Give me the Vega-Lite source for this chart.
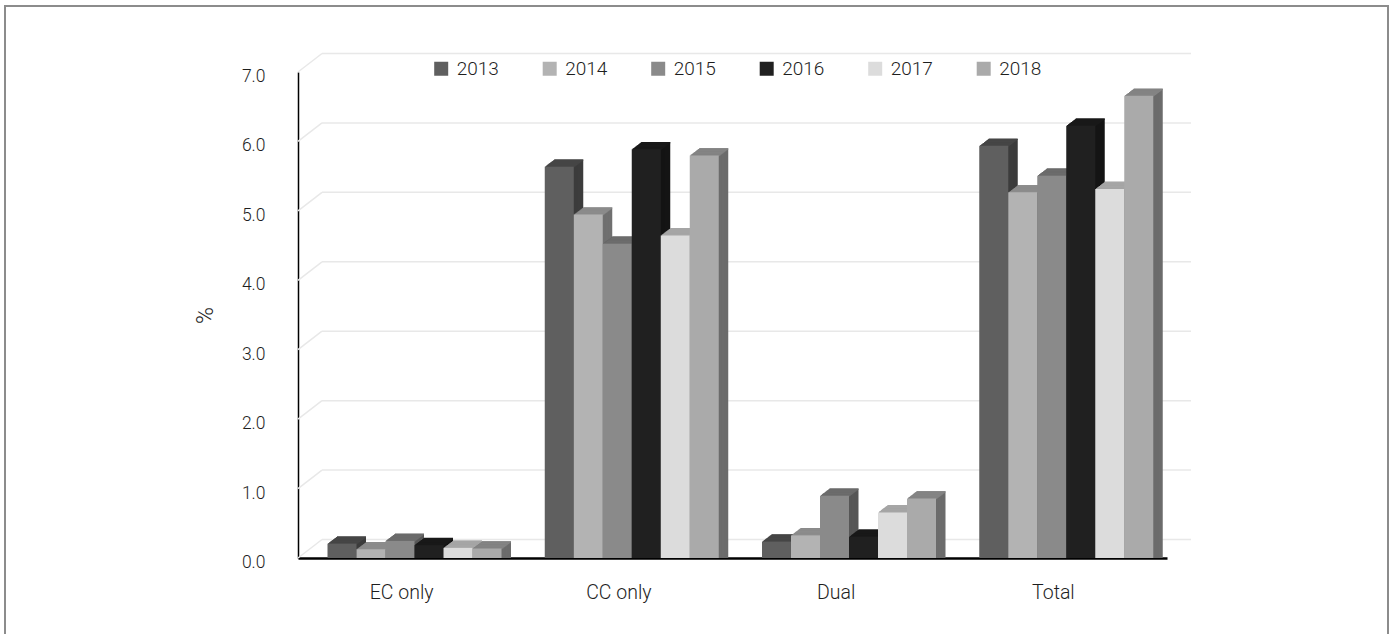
{
  "$schema": "https://vega.github.io/schema/vega-lite/v6.json",
  "autosize": "none",
  "width": 1383,
  "height": 640,
  "padding": {"left": 5, "top": 6, "right": 7, "bottom": 0},
  "background": "white",
  "config": {
    "font": "Roboto",
    "view": {"stroke": "#8c8c8c", "strokeWidth": 2},
    "axisY": {"offset": -293, "domainColor": "#000000", "domainWidth": 1.5, "ticks": false, "grid": false, "labelPadding": 33, "labelFontSize": 17.5, "labelFontWeight": 300, "labelColor": "#1e1e1e", "labelOffset": 4.5, "titleFontSize": 23, "titleFontWeight": 300, "titleColor": "#1e1e1e", "titlePadding": 24},
    "axisX": {"offset": -88, "domainColor": "#000000", "domainWidth": 2.5, "ticks": false, "grid": false, "labelPadding": 25, "labelFontSize": 19.5, "labelFontWeight": 300, "labelColor": "#1e1e1e", "labelOffset": -5, "labelAngle": 0}
  },
  "data": {"values": [
    {"cat": "EC only", "year": "2013", "pct": 0.13},
    {"cat": "EC only", "year": "2014", "pct": 0.05},
    {"cat": "EC only", "year": "2015", "pct": 0.17},
    {"cat": "EC only", "year": "2016", "pct": 0.11},
    {"cat": "EC only", "year": "2017", "pct": 0.07},
    {"cat": "EC only", "year": "2018", "pct": 0.06},
    {"cat": "CC only", "year": "2013", "pct": 5.56},
    {"cat": "CC only", "year": "2014", "pct": 4.87},
    {"cat": "CC only", "year": "2015", "pct": 4.45},
    {"cat": "CC only", "year": "2016", "pct": 5.81},
    {"cat": "CC only", "year": "2017", "pct": 4.57},
    {"cat": "CC only", "year": "2018", "pct": 5.72},
    {"cat": "Dual", "year": "2013", "pct": 0.16},
    {"cat": "Dual", "year": "2014", "pct": 0.25},
    {"cat": "Dual", "year": "2015", "pct": 0.82},
    {"cat": "Dual", "year": "2016", "pct": 0.23},
    {"cat": "Dual", "year": "2017", "pct": 0.58},
    {"cat": "Dual", "year": "2018", "pct": 0.78},
    {"cat": "Total", "year": "2013", "pct": 5.86},
    {"cat": "Total", "year": "2014", "pct": 5.19},
    {"cat": "Total", "year": "2015", "pct": 5.43},
    {"cat": "Total", "year": "2016", "pct": 6.15},
    {"cat": "Total", "year": "2017", "pct": 5.24},
    {"cat": "Total", "year": "2018", "pct": 6.58}
  ]},
  "resolve": {"scale": {"color": "independent", "xOffset": "independent"}},
  "layer": [
    {
      "data": {"values": [{"v": 0}, {"v": 1}, {"v": 2}, {"v": 3}, {"v": 4}, {"v": 5}, {"v": 6}, {"v": 7}]},
      "mark": {"type": "rule", "color": "#e8e8e8", "strokeWidth": 1.5, "xOffset": 24, "x2Offset": 24, "yOffset": -18.5},
      "encoding": {
        "x": {"datum": "EC only", "type": "nominal", "bandPosition": 0, "title": null, "scale": {"domain": ["EC only", "CC only", "Dual", "Total"], "range": [293, 1162], "paddingInner": 0, "paddingOuter": 0}},
        "x2": {"datum": "Total", "bandPosition": 1},
        "y": {"field": "v", "type": "quantitative", "title": "%", "scale": {"domain": [0, 7], "range": [552, 66], "nice": false}}
      }
    },
    {
      "data": {"values": [{"v": 0}, {"v": 1}, {"v": 2}, {"v": 3}, {"v": 4}, {"v": 5}, {"v": 6}, {"v": 7}]},
      "mark": {"type": "rule", "color": "#e8e8e8", "strokeWidth": 1.5, "x2Offset": 24, "y2Offset": -18.5},
      "encoding": {
        "x": {"datum": "EC only", "type": "nominal", "bandPosition": 0, "title": null},
        "x2": {"datum": "EC only", "bandPosition": 0},
        "y": {"field": "v", "type": "quantitative", "title": "%"},
        "y2": {"field": "v"}
      }
    },
    {"mark": {"type": "bar", "yOffset": -12.5, "y2Offset": -12.5}, "encoding": {"x": {"field": "cat", "type": "nominal", "title": null}, "xOffset": {"field": "year", "type": "nominal", "scale": {"range": [39, 213], "paddingInner": 0, "paddingOuter": 0}}, "y": {"field": "pct", "type": "quantitative", "title": "%", "stack": null}, "color": {"field": "year", "type": "nominal", "legend": null, "scale": {"domain": ["2013", "2014", "2015", "2016", "2017", "2018"], "range": ["#3c3c3c", "#707070", "#575757", "#141414", "#8a8a8a", "#6c6c6c"]}}}},
    {"mark": {"type": "bar", "yOffset": -11.78, "y2Offset": -11.78}, "encoding": {"x": {"field": "cat", "type": "nominal", "title": null}, "xOffset": {"field": "year", "type": "nominal", "scale": {"range": [38.05, 212.05], "paddingInner": 0, "paddingOuter": 0}}, "y": {"field": "pct", "type": "quantitative", "title": "%", "stack": null}, "color": {"field": "year", "type": "nominal", "legend": null, "scale": {"domain": ["2013", "2014", "2015", "2016", "2017", "2018"], "range": ["#3c3c3c", "#707070", "#575757", "#141414", "#8a8a8a", "#6c6c6c"]}}}},
    {"mark": {"type": "bar", "yOffset": -11.06, "y2Offset": -11.06}, "encoding": {"x": {"field": "cat", "type": "nominal", "title": null}, "xOffset": {"field": "year", "type": "nominal", "scale": {"range": [37.1, 211.1], "paddingInner": 0, "paddingOuter": 0}}, "y": {"field": "pct", "type": "quantitative", "title": "%", "stack": null}, "color": {"field": "year", "type": "nominal", "legend": null, "scale": {"domain": ["2013", "2014", "2015", "2016", "2017", "2018"], "range": ["#3c3c3c", "#707070", "#575757", "#141414", "#8a8a8a", "#6c6c6c"]}}}},
    {"mark": {"type": "bar", "yOffset": -10.34, "y2Offset": -10.34}, "encoding": {"x": {"field": "cat", "type": "nominal", "title": null}, "xOffset": {"field": "year", "type": "nominal", "scale": {"range": [36.15, 210.15], "paddingInner": 0, "paddingOuter": 0}}, "y": {"field": "pct", "type": "quantitative", "title": "%", "stack": null}, "color": {"field": "year", "type": "nominal", "legend": null, "scale": {"domain": ["2013", "2014", "2015", "2016", "2017", "2018"], "range": ["#3c3c3c", "#707070", "#575757", "#141414", "#8a8a8a", "#6c6c6c"]}}}},
    {"mark": {"type": "bar", "yOffset": -9.62, "y2Offset": -9.62}, "encoding": {"x": {"field": "cat", "type": "nominal", "title": null}, "xOffset": {"field": "year", "type": "nominal", "scale": {"range": [35.2, 209.2], "paddingInner": 0, "paddingOuter": 0}}, "y": {"field": "pct", "type": "quantitative", "title": "%", "stack": null}, "color": {"field": "year", "type": "nominal", "legend": null, "scale": {"domain": ["2013", "2014", "2015", "2016", "2017", "2018"], "range": ["#3c3c3c", "#707070", "#575757", "#141414", "#8a8a8a", "#6c6c6c"]}}}},
    {"mark": {"type": "bar", "yOffset": -8.9, "y2Offset": -8.9}, "encoding": {"x": {"field": "cat", "type": "nominal", "title": null}, "xOffset": {"field": "year", "type": "nominal", "scale": {"range": [34.25, 208.25], "paddingInner": 0, "paddingOuter": 0}}, "y": {"field": "pct", "type": "quantitative", "title": "%", "stack": null}, "color": {"field": "year", "type": "nominal", "legend": null, "scale": {"domain": ["2013", "2014", "2015", "2016", "2017", "2018"], "range": ["#3c3c3c", "#707070", "#575757", "#141414", "#8a8a8a", "#6c6c6c"]}}}},
    {"mark": {"type": "bar", "yOffset": -8.18, "y2Offset": -8.18}, "encoding": {"x": {"field": "cat", "type": "nominal", "title": null}, "xOffset": {"field": "year", "type": "nominal", "scale": {"range": [33.3, 207.3], "paddingInner": 0, "paddingOuter": 0}}, "y": {"field": "pct", "type": "quantitative", "title": "%", "stack": null}, "color": {"field": "year", "type": "nominal", "legend": null, "scale": {"domain": ["2013", "2014", "2015", "2016", "2017", "2018"], "range": ["#3c3c3c", "#707070", "#575757", "#141414", "#8a8a8a", "#6c6c6c"]}}}},
    {"mark": {"type": "bar", "yOffset": -7.46, "y2Offset": -7.46}, "encoding": {"x": {"field": "cat", "type": "nominal", "title": null}, "xOffset": {"field": "year", "type": "nominal", "scale": {"range": [32.35, 206.35], "paddingInner": 0, "paddingOuter": 0}}, "y": {"field": "pct", "type": "quantitative", "title": "%", "stack": null}, "color": {"field": "year", "type": "nominal", "legend": null, "scale": {"domain": ["2013", "2014", "2015", "2016", "2017", "2018"], "range": ["#3c3c3c", "#707070", "#575757", "#141414", "#8a8a8a", "#6c6c6c"]}}}},
    {"mark": {"type": "bar", "yOffset": -6.74, "y2Offset": -6.74}, "encoding": {"x": {"field": "cat", "type": "nominal", "title": null}, "xOffset": {"field": "year", "type": "nominal", "scale": {"range": [31.4, 205.4], "paddingInner": 0, "paddingOuter": 0}}, "y": {"field": "pct", "type": "quantitative", "title": "%", "stack": null}, "color": {"field": "year", "type": "nominal", "legend": null, "scale": {"domain": ["2013", "2014", "2015", "2016", "2017", "2018"], "range": ["#3c3c3c", "#707070", "#575757", "#141414", "#8a8a8a", "#6c6c6c"]}}}},
    {"mark": {"type": "bar", "yOffset": -6.02, "y2Offset": -6.02}, "encoding": {"x": {"field": "cat", "type": "nominal", "title": null}, "xOffset": {"field": "year", "type": "nominal", "scale": {"range": [30.45, 204.45], "paddingInner": 0, "paddingOuter": 0}}, "y": {"field": "pct", "type": "quantitative", "title": "%", "stack": null}, "color": {"field": "year", "type": "nominal", "legend": null, "scale": {"domain": ["2013", "2014", "2015", "2016", "2017", "2018"], "range": ["#3c3c3c", "#707070", "#575757", "#141414", "#8a8a8a", "#6c6c6c"]}}}},
    {"mark": {"type": "bar", "yOffset": -12.5, "y2Offset": -11.2}, "encoding": {"x": {"field": "cat", "type": "nominal", "title": null}, "xOffset": {"field": "year", "type": "nominal", "scale": {"range": [39, 213], "paddingInner": 0, "paddingOuter": 0}}, "y": {"field": "pct", "type": "quantitative", "title": "%", "stack": null}, "y2": {"field": "pct"}, "color": {"field": "year", "type": "nominal", "legend": null, "scale": {"domain": ["2013", "2014", "2015", "2016", "2017", "2018"], "range": ["#464646", "#8c8c8c", "#6c6c6c", "#191919", "#a6a6a6", "#848484"]}}}},
    {"mark": {"type": "bar", "yOffset": -11.78, "y2Offset": -10.48}, "encoding": {"x": {"field": "cat", "type": "nominal", "title": null}, "xOffset": {"field": "year", "type": "nominal", "scale": {"range": [38.05, 212.05], "paddingInner": 0, "paddingOuter": 0}}, "y": {"field": "pct", "type": "quantitative", "title": "%", "stack": null}, "y2": {"field": "pct"}, "color": {"field": "year", "type": "nominal", "legend": null, "scale": {"domain": ["2013", "2014", "2015", "2016", "2017", "2018"], "range": ["#464646", "#8c8c8c", "#6c6c6c", "#191919", "#a6a6a6", "#848484"]}}}},
    {"mark": {"type": "bar", "yOffset": -11.06, "y2Offset": -9.76}, "encoding": {"x": {"field": "cat", "type": "nominal", "title": null}, "xOffset": {"field": "year", "type": "nominal", "scale": {"range": [37.1, 211.1], "paddingInner": 0, "paddingOuter": 0}}, "y": {"field": "pct", "type": "quantitative", "title": "%", "stack": null}, "y2": {"field": "pct"}, "color": {"field": "year", "type": "nominal", "legend": null, "scale": {"domain": ["2013", "2014", "2015", "2016", "2017", "2018"], "range": ["#464646", "#8c8c8c", "#6c6c6c", "#191919", "#a6a6a6", "#848484"]}}}},
    {"mark": {"type": "bar", "yOffset": -10.34, "y2Offset": -9.04}, "encoding": {"x": {"field": "cat", "type": "nominal", "title": null}, "xOffset": {"field": "year", "type": "nominal", "scale": {"range": [36.15, 210.15], "paddingInner": 0, "paddingOuter": 0}}, "y": {"field": "pct", "type": "quantitative", "title": "%", "stack": null}, "y2": {"field": "pct"}, "color": {"field": "year", "type": "nominal", "legend": null, "scale": {"domain": ["2013", "2014", "2015", "2016", "2017", "2018"], "range": ["#464646", "#8c8c8c", "#6c6c6c", "#191919", "#a6a6a6", "#848484"]}}}},
    {"mark": {"type": "bar", "yOffset": -9.62, "y2Offset": -8.32}, "encoding": {"x": {"field": "cat", "type": "nominal", "title": null}, "xOffset": {"field": "year", "type": "nominal", "scale": {"range": [35.2, 209.2], "paddingInner": 0, "paddingOuter": 0}}, "y": {"field": "pct", "type": "quantitative", "title": "%", "stack": null}, "y2": {"field": "pct"}, "color": {"field": "year", "type": "nominal", "legend": null, "scale": {"domain": ["2013", "2014", "2015", "2016", "2017", "2018"], "range": ["#464646", "#8c8c8c", "#6c6c6c", "#191919", "#a6a6a6", "#848484"]}}}},
    {"mark": {"type": "bar", "yOffset": -8.9, "y2Offset": -7.6}, "encoding": {"x": {"field": "cat", "type": "nominal", "title": null}, "xOffset": {"field": "year", "type": "nominal", "scale": {"range": [34.25, 208.25], "paddingInner": 0, "paddingOuter": 0}}, "y": {"field": "pct", "type": "quantitative", "title": "%", "stack": null}, "y2": {"field": "pct"}, "color": {"field": "year", "type": "nominal", "legend": null, "scale": {"domain": ["2013", "2014", "2015", "2016", "2017", "2018"], "range": ["#464646", "#8c8c8c", "#6c6c6c", "#191919", "#a6a6a6", "#848484"]}}}},
    {"mark": {"type": "bar", "yOffset": -8.18, "y2Offset": -6.88}, "encoding": {"x": {"field": "cat", "type": "nominal", "title": null}, "xOffset": {"field": "year", "type": "nominal", "scale": {"range": [33.3, 207.3], "paddingInner": 0, "paddingOuter": 0}}, "y": {"field": "pct", "type": "quantitative", "title": "%", "stack": null}, "y2": {"field": "pct"}, "color": {"field": "year", "type": "nominal", "legend": null, "scale": {"domain": ["2013", "2014", "2015", "2016", "2017", "2018"], "range": ["#464646", "#8c8c8c", "#6c6c6c", "#191919", "#a6a6a6", "#848484"]}}}},
    {"mark": {"type": "bar", "yOffset": -7.46, "y2Offset": -6.16}, "encoding": {"x": {"field": "cat", "type": "nominal", "title": null}, "xOffset": {"field": "year", "type": "nominal", "scale": {"range": [32.35, 206.35], "paddingInner": 0, "paddingOuter": 0}}, "y": {"field": "pct", "type": "quantitative", "title": "%", "stack": null}, "y2": {"field": "pct"}, "color": {"field": "year", "type": "nominal", "legend": null, "scale": {"domain": ["2013", "2014", "2015", "2016", "2017", "2018"], "range": ["#464646", "#8c8c8c", "#6c6c6c", "#191919", "#a6a6a6", "#848484"]}}}},
    {"mark": {"type": "bar", "yOffset": -6.74, "y2Offset": -5.44}, "encoding": {"x": {"field": "cat", "type": "nominal", "title": null}, "xOffset": {"field": "year", "type": "nominal", "scale": {"range": [31.4, 205.4], "paddingInner": 0, "paddingOuter": 0}}, "y": {"field": "pct", "type": "quantitative", "title": "%", "stack": null}, "y2": {"field": "pct"}, "color": {"field": "year", "type": "nominal", "legend": null, "scale": {"domain": ["2013", "2014", "2015", "2016", "2017", "2018"], "range": ["#464646", "#8c8c8c", "#6c6c6c", "#191919", "#a6a6a6", "#848484"]}}}},
    {"mark": {"type": "bar", "yOffset": -6.02, "y2Offset": -4.72}, "encoding": {"x": {"field": "cat", "type": "nominal", "title": null}, "xOffset": {"field": "year", "type": "nominal", "scale": {"range": [30.45, 204.45], "paddingInner": 0, "paddingOuter": 0}}, "y": {"field": "pct", "type": "quantitative", "title": "%", "stack": null}, "y2": {"field": "pct"}, "color": {"field": "year", "type": "nominal", "legend": null, "scale": {"domain": ["2013", "2014", "2015", "2016", "2017", "2018"], "range": ["#464646", "#8c8c8c", "#6c6c6c", "#191919", "#a6a6a6", "#848484"]}}}},
    {
      "mark": {"type": "bar", "yOffset": -5.3, "y2Offset": -5.3},
      "encoding": {
        "x": {"field": "cat", "type": "nominal", "title": null, "scale": {"domain": ["EC only", "CC only", "Dual", "Total"], "range": [293, 1162], "paddingInner": 0, "paddingOuter": 0}},
        "xOffset": {"field": "year", "type": "nominal", "scale": {"range": [29.5, 203.5], "paddingInner": 0, "paddingOuter": 0}},
        "y": {"field": "pct", "type": "quantitative", "title": "%", "stack": null, "scale": {"domain": [0, 7], "range": [552, 66], "nice": false}, "axis": {"format": ".1f", "values": [0, 1, 2, 3, 4, 5, 6, 7]}},
        "color": {
          "field": "year", "type": "nominal",
          "scale": {"domain": ["2013", "2014", "2015", "2016", "2017", "2018"], "range": ["#5f5f5f", "#b3b3b3", "#8a8a8a", "#202020", "#dcdcdc", "#aaaaaa"]},
          "legend": {"orient": "none", "legendX": 426.7, "legendY": 53, "direction": "horizontal", "title": null, "symbolType": "square", "symbolSize": 196, "symbolStrokeWidth": 0, "symbolOpacity": 1, "labelFontSize": 19, "labelFontWeight": 300, "labelColor": "#1e1e1e", "labelOffset": 6, "columnPadding": 40.5, "padding": 0}
        }
      }
    }
  ]
}
